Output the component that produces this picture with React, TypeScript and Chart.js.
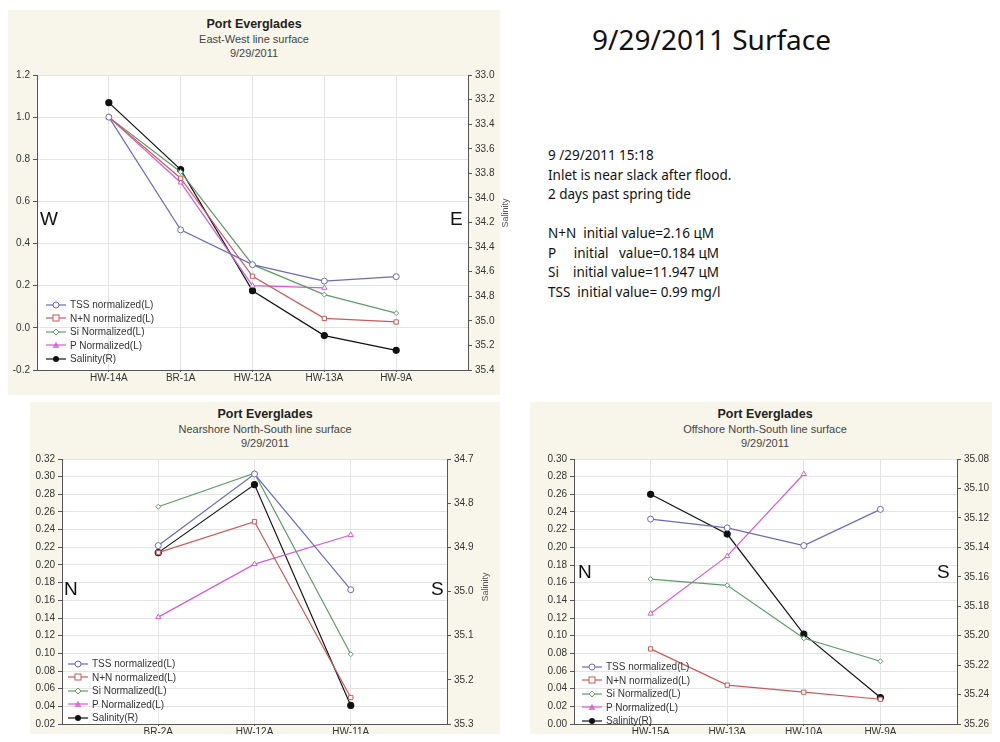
import { useEffect, useRef } from "react";
import { Chart, registerables, ChartConfiguration } from "chart.js";

Chart.register(...registerables);

// East-West line
const ewStations = ["HW-14A", "BR-1A", "HW-12A", "HW-13A", "HW-9A"];
const ewTss = [1.0, 0.465, 0.3, 0.222, 0.243];
const ewNn = [1.0, 0.71, 0.245, 0.045, 0.028];
const ewSi = [1.0, 0.74, 0.3, 0.158, 0.07];
const ewP = [1.0, 0.69, 0.2, 0.19, null];
const ewSal = [33.225, 33.77, 34.755, 35.12, 35.24];

// Nearshore North-South line
const nsStations = ["BR-2A", "HW-12A", "HW-11A"];
const nsTss = [0.222, 0.303, 0.172];
const nsNn = [0.214, 0.249, 0.05];
const nsSi = [0.266, 0.304, 0.099];
const nsP = [0.141, 0.201, 0.234];
const nsSal = [34.912, 34.758, 35.258];

// Offshore North-South line
const osStations = ["HW-15A", "HW-13A", "HW-10A", "HW-9A"];
const osTss = [0.232, 0.222, 0.202, 0.243];
const osNn = [0.085, 0.044, 0.036, 0.028];
const osSi = [0.164, 0.157, 0.097, 0.071];
const osP = [0.125, 0.19, 0.283, null];
const osSal = [35.104, 35.131, 35.199, 35.242];

const seriesNames = ["TSS normalized(L)", "N+N normalized(L)", "Si Normalized(L)", "P Normalized(L)", "Salinity(R)"];
const colors = ["#6b6bb5", "#c85a5a", "#5f9a68", "#d45bd4", "#111111"];
const markers = ["circle", "rect", "rectRot", "triangle", "circle"];

const font = "Arial, 'Liberation Sans', sans-serif";

const whiteArea = {
  id: "whiteArea",
  beforeDraw(c: Chart) {
    const { ctx, chartArea: a } = c;
    ctx.save();
    ctx.fillStyle = "#fff";
    ctx.fillRect(a.left, a.top, a.right - a.left, a.bottom - a.top);
    ctx.restore();
  },
};

const fmt = (v: any, d: number) => {
  const n = Math.abs(Number(v)) < 1e-9 ? 0 : Number(v);
  return n.toFixed(d);
};

interface LP {
  w: number; h: number; left: number; right: number; top: number; bottom: number;
  stations: string[]; left4: (number | null)[][]; sal: number[];
  yMin: number; yMax: number; yStep: number; rMin: number; rMax: number; rStep: number;
  dec: number; rDec: number;
}

function LineChart(p: LP) {
  const ref = useRef<HTMLCanvasElement>(null);
  useEffect(() => {
    if (!ref.current) return;
    const toPts = (arr: (number | null)[]) => arr.map((v, i) => ({ x: i, y: v }));
    const ds: any[] = p.left4.map((arr, k) => ({
      label: seriesNames[k], data: toPts(arr), yAxisID: "y",
      borderColor: colors[k], backgroundColor: "#fff", borderWidth: 1.2,
      pointStyle: markers[k], pointRadius: k === 2 ? 2.5 : 3, pointBorderWidth: 1,
    }));
    ds.push({
      label: seriesNames[4], data: toPts(p.sal), yAxisID: "y1",
      borderColor: colors[4], backgroundColor: colors[4], borderWidth: 1.2,
      pointStyle: "circle", pointRadius: 3,
    });
    const tickFont = { family: font, size: 10 };
    const cfg: ChartConfiguration<"line"> = {
      type: "line",
      data: { datasets: ds },
      options: {
        animation: false, responsive: false, spanGaps: false,
        layout: { padding: { top: p.top, bottom: 0, left: 0, right: 0 } },
        plugins: { legend: { display: false }, tooltip: { enabled: false } },
        scales: {
          x: {
            type: "linear", min: -1, max: p.stations.length,
            afterBuildTicks: (s: any) => { s.ticks = p.stations.map((_, i) => ({ value: i })); },
            afterFit: (s: any) => { s.height = p.bottom; },
            ticks: { callback: (v: any) => p.stations[v] ?? "", font: tickFont, color: "#333", maxRotation: 0, padding: 0 },
            grid: { color: "#e4e4e4", tickLength: 2, tickColor: "#555" },
            border: { color: "#555" },
          },
          y: {
            min: p.yMin, max: p.yMax,
            afterFit: (s: any) => { s.width = p.left; },
            ticks: { stepSize: p.yStep, callback: (v: any) => fmt(v, p.dec), font: tickFont, color: "#333" },
            grid: { color: "#e4e4e4", tickLength: 4, tickColor: "#555" },
            border: { color: "#555" },
          },
          y1: {
            position: "right", reverse: true, min: p.rMin, max: p.rMax,
            afterFit: (s: any) => { s.width = p.right; },
            ticks: { stepSize: p.rStep, callback: (v: any) => fmt(v, p.rDec), font: tickFont, color: "#333" },
            grid: { drawOnChartArea: false, tickLength: 4, tickColor: "#555" },
            border: { color: "#555" },
          },
        },
      },
      plugins: [whiteArea],
    };
    const chart = new Chart(ref.current, cfg);
    return () => chart.destroy();
  }, []);
  return <canvas ref={ref} width={p.w} height={p.h} style={{ width: p.w, height: p.h, display: "block" }} />;
}

function Legend({ x, y }: { x: number; y: number }) {
  return (
    <div style={{ position: "absolute", left: x, top: y, fontFamily: font, fontSize: 10, color: "#333", lineHeight: "13.5px" }}>
      {seriesNames.map((n, k) => (
        <div key={n} style={{ display: "flex", alignItems: "center" }}>
          <svg width="20" height="10" style={{ marginRight: 4 }}>
            <line x1="0" y1="5" x2="20" y2="5" stroke={colors[k]} strokeWidth="1.2" />
            {k === 0 && <circle cx="10" cy="5" r="3" fill="#fff" stroke={colors[k]} />}
            {k === 1 && <rect x="7" y="2" width="6" height="6" fill="#fff" stroke={colors[k]} />}
            {k === 2 && <polygon points="10,2 13,5 10,8 7,5" fill="#fff" stroke={colors[k]} />}
            {k === 3 && <polygon points="10,1.5 13.5,8 6.5,8" fill={colors[k]} opacity="0.8" />}
            {k === 4 && <circle cx="10" cy="5" r="3" fill={colors[k]} />}
          </svg>
          {n}
        </div>
      ))}
    </div>
  );
}

function Title({ x, w, y, sub }: { x: number; w: number; y: number; sub: string }) {
  return (
    <div style={{ position: "absolute", left: x, top: y, width: w, textAlign: "center", fontFamily: font, color: "#222" }}>
      <div style={{ fontWeight: "bold", fontSize: 12.5, lineHeight: "16px" }}>Port Everglades</div>
      <div style={{ fontSize: 11, lineHeight: "14px", color: "#444" }}>{sub}</div>
      <div style={{ fontSize: 11, lineHeight: "14px", color: "#444" }}>9/29/2011</div>
    </div>
  );
}

const big = { position: "absolute" as const, fontFamily: font, fontSize: 19, color: "#111" };
const sal = (x: number, y: number) => (
  <div style={{ position: "absolute", left: x, top: y, transform: "rotate(-90deg)", fontFamily: font, fontSize: 9, color: "#555" }}>Salinity</div>
);

export default function App() {
  return (
    <div style={{ position: "relative", width: 1000, height: 742, margin: -8, background: "#fff", overflow: "hidden" }}>
      <div style={{ position: "absolute", left: 8, top: 10, width: 492, height: 385, background: "#f8f6ea" }} />
      <div style={{ position: "absolute", left: 30, top: 402, width: 470, height: 340, background: "#f8f6ea" }} />
      <div style={{ position: "absolute", left: 530, top: 402, width: 470, height: 340, background: "#f8f6ea" }} />

      <Title x={8} w={492} y={16} sub="East-West line surface" />
      <div style={{ position: "absolute", left: 0, top: 60 }}>
        <LineChart w={500} h={335} left={37} right={32} top={15} bottom={25}
          stations={ewStations} left4={[ewTss, ewNn, ewSi, ewP]} sal={ewSal}
          yMin={-0.2} yMax={1.2} yStep={0.2} rMin={33.0} rMax={35.4} rStep={0.2} dec={1} rDec={1} />
      </div>
      <Legend x={46} y={298} />
      <div style={{ ...big, left: 40, top: 208 }}>W</div>
      <div style={{ ...big, left: 450, top: 208 }}>E</div>
      {sal(490, 208)}

      <Title x={30} w={470} y={406} sub="Nearshore North-South line surface" />
      <div style={{ position: "absolute", left: 30, top: 449 }}>
        <LineChart w={470} h={293} left={32} right={53} top={10} bottom={18}
          stations={nsStations} left4={[nsTss, nsNn, nsSi, nsP]} sal={nsSal}
          yMin={0.02} yMax={0.32} yStep={0.02} rMin={34.7} rMax={35.3} rStep={0.1} dec={2} rDec={1} />
      </div>
      <Legend x={68} y={657} />
      <div style={{ ...big, left: 64, top: 578 }}>N</div>
      <div style={{ ...big, left: 431, top: 578 }}>S</div>
      {sal(470, 582)}

      <Title x={530} w={470} y={406} sub="Offshore North-South line surface" />
      <div style={{ position: "absolute", left: 530, top: 449 }}>
        <LineChart w={470} h={293} left={44} right={43} top={10} bottom={18}
          stations={osStations} left4={[osTss, osNn, osSi, osP]} sal={osSal}
          yMin={0} yMax={0.3} yStep={0.02} rMin={35.08} rMax={35.26} rStep={0.02} dec={2} rDec={2} />
      </div>
      <Legend x={582} y={660} />
      <div style={{ ...big, left: 578, top: 561 }}>N</div>
      <div style={{ ...big, left: 937, top: 561 }}>S</div>
      {sal(982, 582)}

      <div style={{ position: "absolute", left: 592, top: 20, fontFamily: "'Noto Sans', sans-serif", fontSize: 28, color: "#111" }}>9/29/2011 Surface</div>
      <div style={{ position: "absolute", left: 548, top: 146, fontFamily: "'Noto Sans', sans-serif", fontSize: 13.5, lineHeight: "19.5px", color: "#111", whiteSpace: "pre" }}>
        {"9 /29/2011 15:18\nInlet is near slack after flood.\n2 days past spring tide\n\nN+N  initial value=2.16 цM\nP     initial   value=0.184 цM\nSi    initial value=11.947 цM\nTSS  initial value= 0.99 mg/l"}
      </div>
    </div>
  );
}
